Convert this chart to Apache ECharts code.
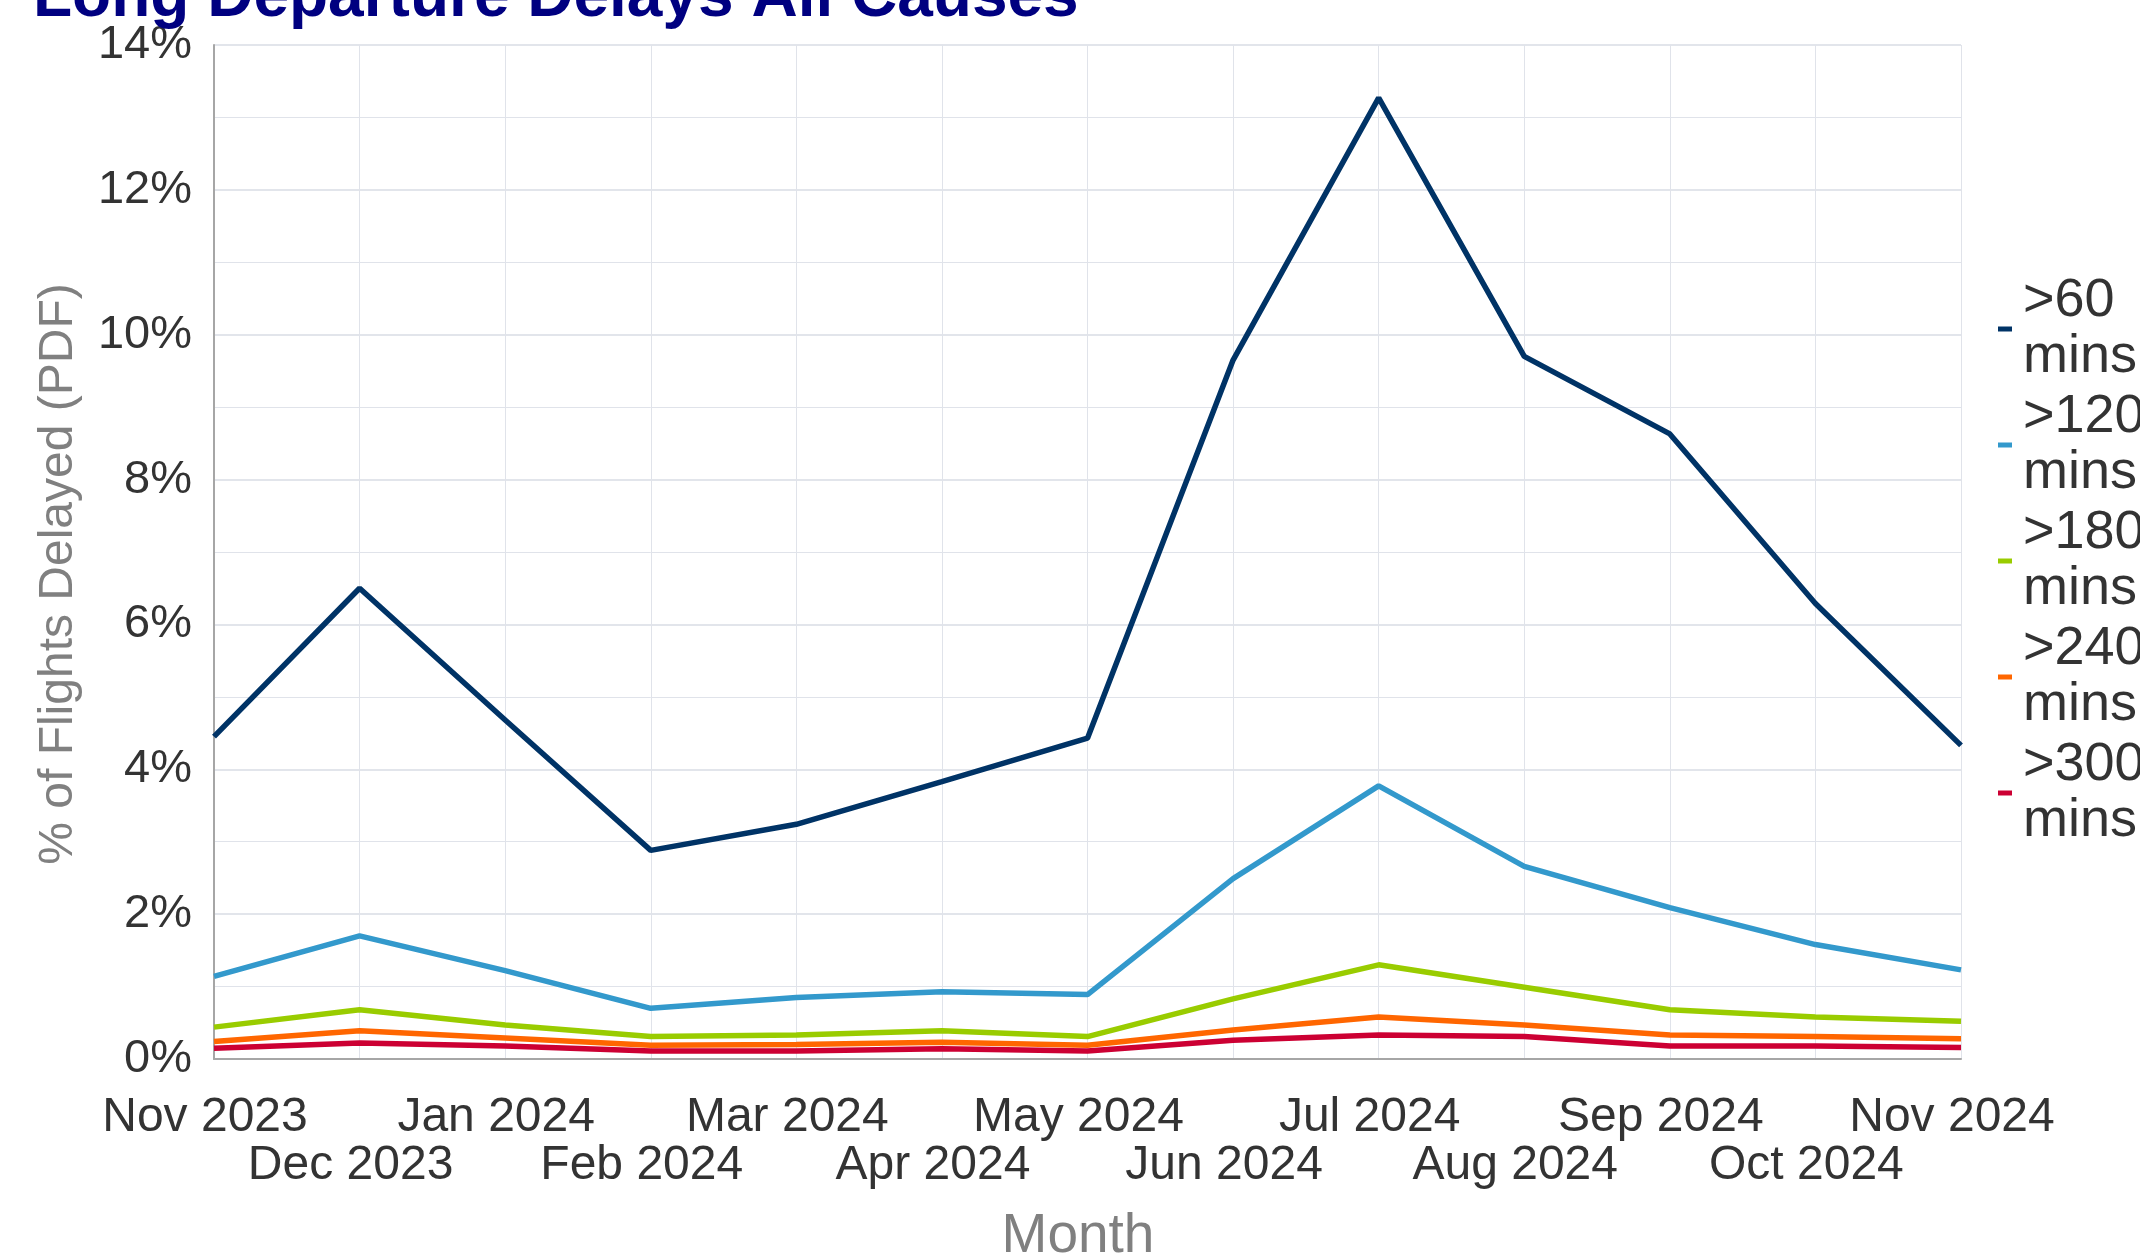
<!DOCTYPE html>
<html><head><meta charset="utf-8">
<script src="https://cdn.jsdelivr.net/npm/echarts@6/dist/echarts.min.js"></script>
<style>html,body{margin:0;padding:0;background:#fff}#c{width:2140px;height:1256px}</style>
</head><body><div id="c"></div>
<script>
const months = ['Nov 2023','Dec 2023','Jan 2024','Feb 2024','Mar 2024','Apr 2024','May 2024','Jun 2024','Jul 2024','Aug 2024','Sep 2024','Oct 2024','Nov 2024'];
const seriesNames = ['>60\nmins','>120\nmins','>180\nmins','>240\nmins','>300\nmins'];
const over60  = [4.45, 6.50, 4.68, 2.88, 3.24, 3.83, 4.43, 9.65, 13.27, 9.70, 8.63, 6.29, 4.33];
const over120 = [1.14, 1.70, 1.22, 0.70, 0.85, 0.93, 0.89, 2.49, 3.77, 2.66, 2.09, 1.58, 1.23];
const over180 = [0.44, 0.68, 0.47, 0.31, 0.33, 0.39, 0.31, 0.83, 1.30, 0.99, 0.68, 0.58, 0.52];
const over240 = [0.24, 0.39, 0.29, 0.19, 0.20, 0.23, 0.19, 0.40, 0.58, 0.47, 0.33, 0.31, 0.28];
const over300 = [0.15, 0.22, 0.18, 0.11, 0.11, 0.14, 0.11, 0.26, 0.33, 0.31, 0.18, 0.18, 0.16];
const yTicks = [0, 2, 4, 6, 8, 10, 12, 14];
const colors = ['#003366', '#3399CC', '#99CC00', '#FF6600', '#CC0033'];
const allData = [over60, over120, over180, over240, over300];

const FONT = '"Liberation Sans", Arial, sans-serif';
const chart = echarts.init(document.getElementById('c'));
chart.setOption({
  animation: false,
  backgroundColor: '#fff',
  title: {
    text: 'Long Departure Delays All Causes',
    left: 28, top: -39,
    textStyle: { fontFamily: FONT, fontSize: 64, fontWeight: 'bold', color: '#000080' }
  },
  grid: { left: 214, right: 179, top: 45, bottom: 197, containLabel: false, outerBoundsMode: 'none' },
  legend: {
    orient: 'vertical', left: 1993, top: 268,
    icon: 'rect', itemWidth: 14, itemHeight: 5, itemGap: 4,
    textStyle: { fontFamily: FONT, fontSize: 54, color: '#333', lineHeight: 56, padding: [0, 0, 0, 6] },
    data: seriesNames
  },
  xAxis: {
    type: 'category', data: months, boundaryGap: false,
    name: 'Month', nameLocation: 'middle', nameGap: 150,
    nameTextStyle: { fontFamily: FONT, fontSize: 55, color: '#808080', padding: [0, 19, 0, 0] },
    axisLine: { lineStyle: { color: '#a6a6a6', width: 2 } },
    axisTick: { show: false },
    splitLine: { show: true, lineStyle: { color: '#e0e3ea', width: 1 } },
    axisLabel: {
      interval: 0, margin: 35, fontFamily: FONT, fontSize: 48, color: '#333', lineHeight: 48,
      padding: [0, 18, 0, 0],
      formatter: (v, i) => (i % 2 ? '\n' + v : v)
    }
  },
  yAxis: {
    type: 'value', min: yTicks[0], max: yTicks[yTicks.length - 1], interval: 2,
    name: '% of Flights Delayed (PDF)', nameLocation: 'middle', nameGap: 131, nameRotate: 90,
    nameTextStyle: { fontFamily: FONT, fontSize: 48, color: '#808080', padding: [0, 44, 0, 0] },
    axisLine: { show: true, lineStyle: { color: '#a6a6a6', width: 2 } },
    axisTick: { show: false },
    minorTick: { show: false, splitNumber: 2 },
    minorSplitLine: { show: true, lineStyle: { color: '#e0e3ea', width: 1 } },
    splitLine: { show: true, lineStyle: { color: '#d9dce4', width: 1.5 } },
    axisLabel: { margin: 22, fontFamily: FONT, fontSize: 47, color: '#333', formatter: '{value}%', padding: [9, 0, 0, 0] }
  },
  series: seriesNames.map((n, i) => ({
    name: n, type: 'line', data: allData[i], symbol: 'none',
    lineStyle: { color: colors[i], width: 5.5 }, itemStyle: { color: colors[i] },
    z: 10 - i
  }))
});
</script></body></html>
